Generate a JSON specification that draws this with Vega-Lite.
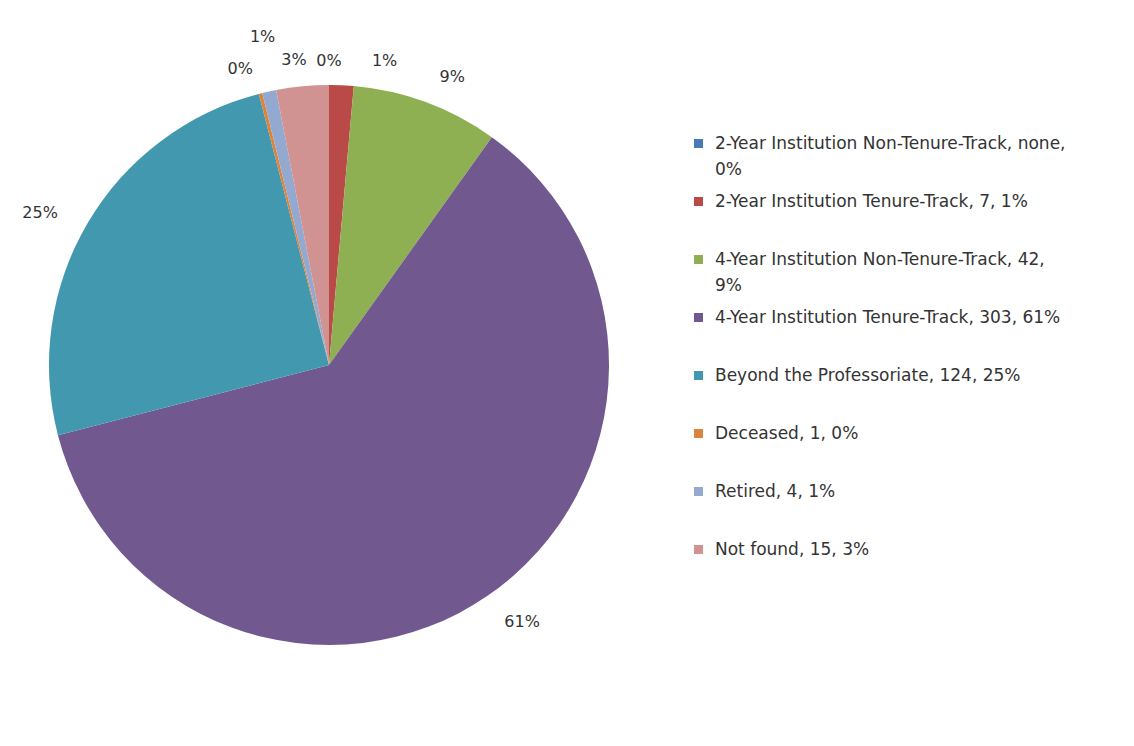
{
  "$schema": "https://vega.github.io/schema/vega-lite/v6.json",
  "width": 560,
  "height": 560,
  "autosize": "none",
  "padding": {"left": 49, "top": 85, "right": 525, "bottom": 101},
  "background": "white",
  "config": {"view": {"stroke": null}, "font": "DejaVu Sans", "text": {"font": "DejaVu Sans", "fontSize": 16, "color": "#333333"}},
  "data": {
    "values": [
      {"category": "2-Year Institution Non-Tenure-Track, none, 0%", "count": 0, "order": 1, "pct": "0%"},
      {"category": "2-Year Institution Tenure-Track, 7, 1%", "count": 7, "order": 2, "pct": "1%"},
      {"category": "4-Year Institution Non-Tenure-Track, 42, 9%", "count": 42, "order": 3, "pct": "9%"},
      {"category": "4-Year Institution Tenure-Track, 303, 61%", "count": 303, "order": 4, "pct": "61%"},
      {"category": "Beyond the Professoriate, 124, 25%", "count": 124, "order": 5, "pct": "25%"},
      {"category": "Deceased, 1, 0%", "count": 1, "order": 6, "pct": "0%"},
      {"category": "Retired, 4, 1%", "count": 4, "order": 7, "pct": "1%"},
      {"category": "Not found, 15, 3%", "count": 15, "order": 8, "pct": "3%"}
    ]
  },
  "encoding": {
    "theta": {"field": "count", "type": "quantitative", "stack": true},
    "order": {"field": "order", "type": "quantitative"}
  },
  "layer": [
    {
      "mark": {"type": "arc", "outerRadius": 280},
      "encoding": {
        "color": {
          "field": "category",
          "type": "nominal",
          "sort": null,
          "scale": {
            "domain": [
              "2-Year Institution Non-Tenure-Track, none, 0%",
              "2-Year Institution Tenure-Track, 7, 1%",
              "4-Year Institution Non-Tenure-Track, 42, 9%",
              "4-Year Institution Tenure-Track, 303, 61%",
              "Beyond the Professoriate, 124, 25%",
              "Deceased, 1, 0%",
              "Retired, 4, 1%",
              "Not found, 15, 3%"
            ],
            "range": ["#4A79B5", "#B94A47", "#8FB052", "#71588F", "#4198AF", "#DB843D", "#93A9CF", "#D19392"]
          },
          "legend": {
            "orient": "none",
            "legendX": 641,
            "legendY": 50,
            "title": null,
            "padding": 0,
            "symbolType": "square",
            "symbolSize": 81,
            "symbolStrokeWidth": 0,
            "labelFont": "DejaVu Sans",
            "labelFontSize": 17,
            "labelColor": "#333333",
            "labelLimit": 600,
            "labelOffset": 8,
            "labelBaseline": "middle",
            "rowPadding": 14,
            "gridAlign": "all",
            "labelExpr": "datum.label === '2-Year Institution Non-Tenure-Track, none, 0%' ? ['2-Year Institution Non-Tenure-Track, none,', '0%'] : datum.label === '4-Year Institution Non-Tenure-Track, 42, 9%' ? ['4-Year Institution Non-Tenure-Track, 42,', '9%'] : datum.label",
            "encode": {"labels": {"update": {"lineHeight": {"value": 26}}}}
          }
        }
      }
    },
    {
      "mark": {"type": "text", "radius": 304},
      "encoding": {"text": {"field": "pct", "condition": {"test": "datum.order != 1", "value": ""}}}
    },
    {
      "mark": {"type": "text", "radius": 306, "dx": 42, "dy": 2},
      "encoding": {"text": {"field": "pct", "condition": {"test": "datum.order != 2", "value": ""}}}
    },
    {
      "mark": {"type": "text", "radius": 306, "dx": 17, "dy": -1},
      "encoding": {"text": {"field": "pct", "condition": {"test": "datum.order != 3", "value": ""}}}
    },
    {
      "mark": {"type": "text", "radius": 320, "dx": 12, "dy": -7},
      "encoding": {"text": {"field": "pct", "condition": {"test": "datum.order != 4", "value": ""}}}
    },
    {
      "mark": {"type": "text", "radius": 326, "dx": -8, "dy": 13},
      "encoding": {"text": {"field": "pct", "condition": {"test": "datum.order != 5", "value": ""}}}
    },
    {
      "mark": {"type": "text", "radius": 306, "dx": -14, "dy": 1},
      "encoding": {"text": {"field": "pct", "condition": {"test": "datum.order != 6", "value": ""}}}
    },
    {
      "mark": {"type": "text", "radius": 334, "dx": 5, "dy": -2},
      "encoding": {"text": {"field": "pct", "condition": {"test": "datum.order != 7", "value": ""}}}
    },
    {
      "mark": {"type": "text", "radius": 306, "dx": -6, "dy": 0},
      "encoding": {"text": {"field": "pct", "condition": {"test": "datum.order != 8", "value": ""}}}
    }
  ]
}
